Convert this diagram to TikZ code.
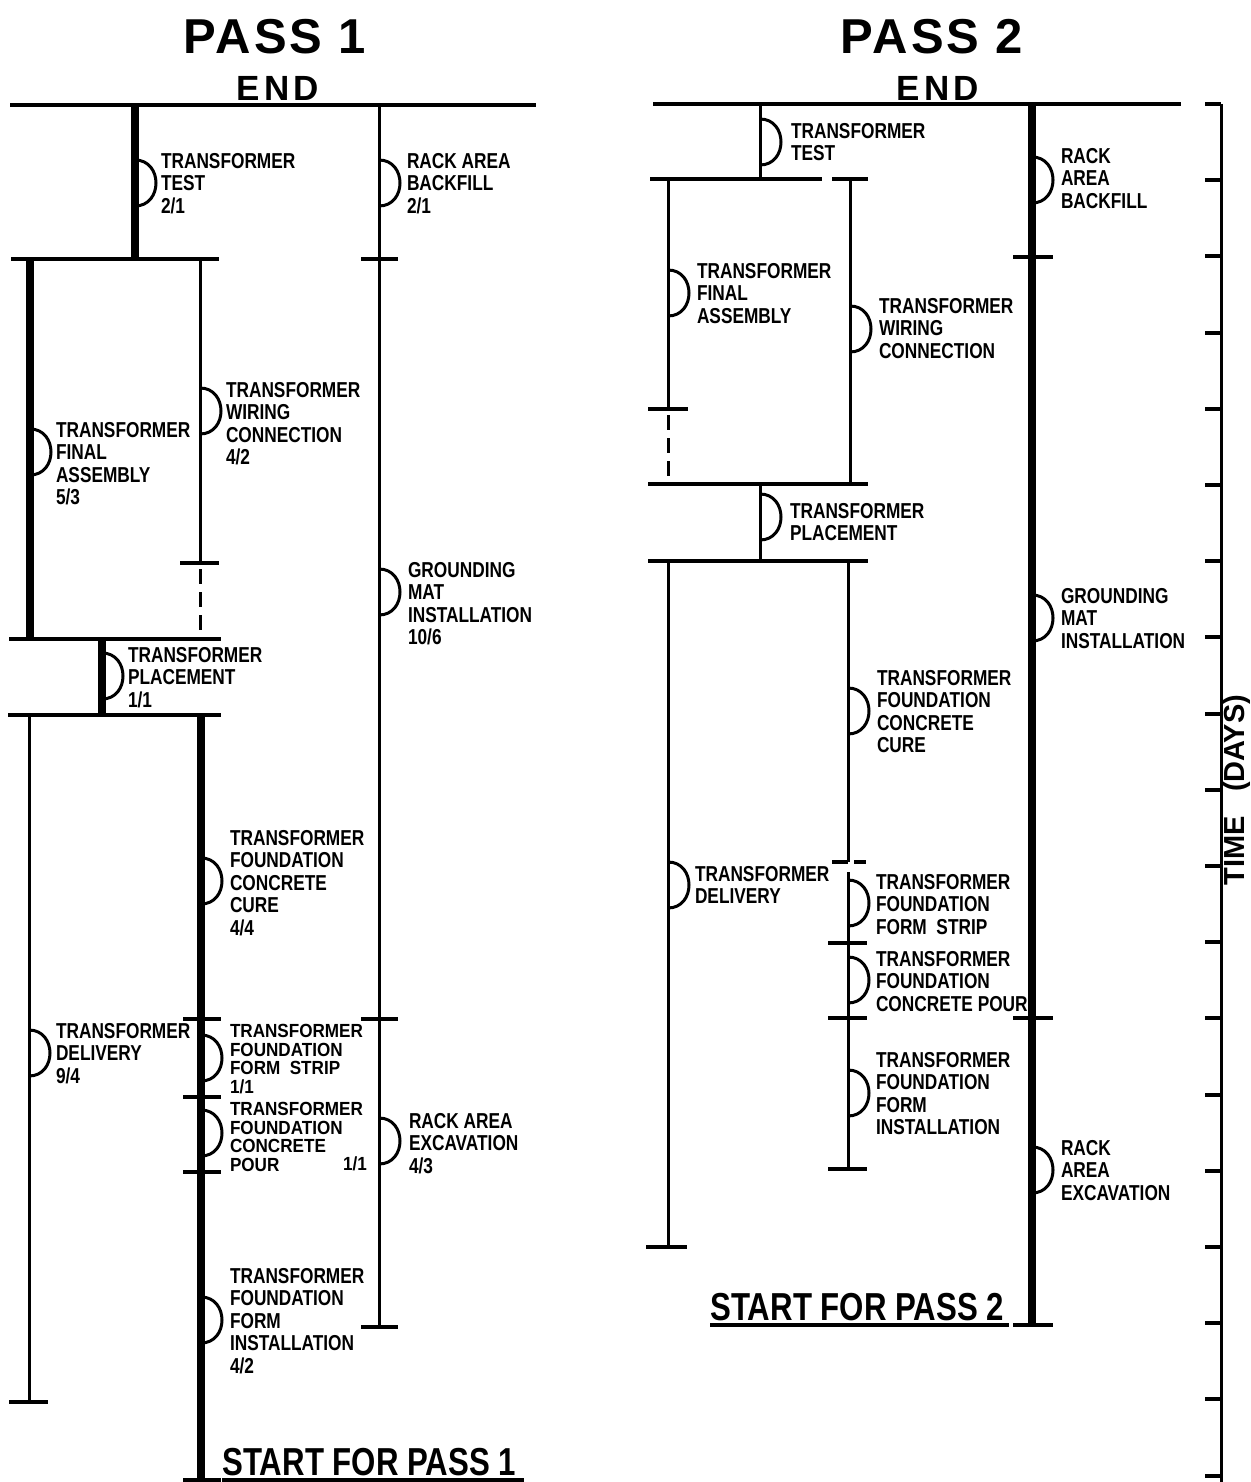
\documentclass[tikz,border=0pt]{standalone}
\usepackage{fontspec}
\setmainfont{Liberation Sans}
\newfontfamily\condf[FakeStretch=0.8]{Liberation Sans}
\newfontfamily\condw[FakeStretch=0.9]{Liberation Sans}
\newfontfamily\spacedf[LetterSpace=12]{Liberation Sans}
\newfontfamily\titlef[LetterSpace=6]{Liberation Sans}
\newcommand\lblfont{\condf\bfseries\fontsize{10.8}{11.25}\selectfont}
\newcommand\lbltightfont{\condw\bfseries\fontsize{9.5}{9.4}\selectfont}
\begin{document}
\begin{tikzpicture}[x=0.5pt,y=-0.5pt,
  actthin/.style={line width=1.5pt},
  actthick/.style={line width=4.3pt},
  tickln/.style={line width=2pt},
  endln/.style={line width=2pt},
  dashln/.style={line width=1.5pt,dash pattern=on 7.5pt off 4pt},
  lbl/.style={anchor=north west,inner sep=0pt,outer sep=0pt,align=left,font=\lblfont},
  lbltight/.style={anchor=north west,inner sep=0pt,outer sep=0pt,align=left,font=\lbltightfont},
  titlenode/.style={inner sep=0pt,font=\titlef\bfseries\fontsize{24.5}{26}\selectfont},
  endnode/.style={inner sep=0pt,font=\spacedf\bfseries\fontsize{17.5}{18}\selectfont},
  startnode/.style={anchor=base west,inner sep=0pt,font=\condf\bfseries\fontsize{19.5}{20}\selectfont},
  hump/.pic={\draw[line width=1.5pt] (0,0) .. controls (28,0) and (28,46) .. (0,46);}
]
\fill[white] (0,0) rectangle (1251,1482);
\useasboundingbox (0,0) rectangle (1251,1482);

% ================= PASS 1 =================
\node[titlenode] (p1title) at (275,37) {PASS 1};
\node[endnode] (p1end) at (278,88) {END};
\draw[endln] (10,105) -- (536,105);

% transformer test
\draw[actthick] (135,105) -- (135,259);
\draw[tickln] (11,259) -- (219,259);
\pic at (135,160) {hump};
\node[lbl] (a1) at (161,153) {TRANSFORMER\\TEST\\2/1};

% rack column
\draw[actthin] (379,105) -- (379,1327);
\foreach \yy in {259,1019,1327} \draw[tickln] (361,\yy) -- (398,\yy);
\pic at (379,160) {hump};
\node[lbl] (a2) at (407,153) {RACK AREA\\BACKFILL\\2/1};
\pic at (379,569) {hump};
\node[lbl] (a3) at (408,562) {GROUNDING\\MAT\\INSTALLATION\\10/6};
\pic at (379,1118) {hump};
\node[lbl] (a4) at (409,1113) {RACK AREA\\EXCAVATION\\4/3};

% final assembly
\draw[actthick] (30,259) -- (30,639);
\pic at (30,429) {hump};
\node[lbl] (a5) at (56,422) {TRANSFORMER\\FINAL\\ASSEMBLY\\5/3};

% wiring
\draw[actthin] (200,259) -- (200,563);
\draw[tickln] (180,563) -- (219,563);
\draw[dashln] (200,569) -- (200,639);
\pic at (200,388) {hump};
\node[lbl] (a6) at (226,382) {TRANSFORMER\\WIRING\\CONNECTION\\4/2};

% placement
\draw[tickln] (9,639) -- (221,639);
\draw[actthick] (102,639) -- (102,715);
\draw[tickln] (8,715) -- (221,715);
\pic at (102,653) {hump};
\node[lbl] (a7) at (128,647) {TRANSFORMER\\PLACEMENT\\1/1};

% delivery
\draw[actthin] (29,715) -- (29,1402);
\draw[tickln] (9,1402) -- (48,1402);
\pic at (29,1030) {hump};
\node[lbl] (a8) at (56,1023) {TRANSFORMER\\DELIVERY\\9/4};

% foundation chain
\draw[actthick] (201,715) -- (201,1482);
\foreach \yy in {1019,1097,1172,1480} \draw[tickln] (183,\yy) -- (221,\yy);
\pic at (201,858) {hump};
\node[lbl] (a9) at (230,830) {TRANSFORMER\\FOUNDATION\\CONCRETE\\CURE\\4/4};
\pic at (201,1035) {hump};
\node[lbltight] (a10) at (230,1024) {TRANSFORMER\\FOUNDATION\\FORM\ \ STRIP\\1/1};
\pic at (201,1110) {hump};
\node[lbltight] (a11) at (230,1102) {TRANSFORMER\\FOUNDATION\\CONCRETE\\POUR};
\node[lbltight,anchor=base west] (a11b) at (343,1170) {1/1};
\pic at (201,1297) {hump};
\node[lbl] (a12) at (230,1268) {TRANSFORMER\\FOUNDATION\\FORM\\INSTALLATION\\4/2};

\node[startnode] (s1) at (222,1475) {START FOR PASS 1};
\draw[tickln] (222,1480) -- (524,1480);

% ================= PASS 2 =================
\node[titlenode] (p2title) at (932,37) {PASS 2};
\node[endnode] (p2end) at (938,88) {END};
\draw[endln] (653,104) -- (1181,104);

% test
\draw[actthin] (760,104) -- (760,179);
\draw[tickln] (650,179) -- (822,179);
\draw[tickln] (832,179) -- (868,179);
\pic at (760,119) {hump};
\node[lbl] (b1) at (791,123) {TRANSFORMER\\TEST};

% final assembly
\draw[actthin] (668,179) -- (668,409);
\draw[tickln] (648,409) -- (688,409);
\draw[dashln] (668,415) -- (668,484);
\pic at (668,270) {hump};
\node[lbl] (b2) at (697,263) {TRANSFORMER\\FINAL\\ASSEMBLY};

% wiring
\draw[actthin] (850,179) -- (850,484);
\pic at (850,306) {hump};
\node[lbl] (b3) at (879,298) {TRANSFORMER\\WIRING\\CONNECTION};

% placement
\draw[tickln] (648,484) -- (868,484);
\draw[actthin] (760,484) -- (760,561);
\draw[tickln] (648,561) -- (868,561);
\pic at (760,494) {hump};
\node[lbl] (b4) at (790,503) {TRANSFORMER\\PLACEMENT};

% delivery
\draw[actthin] (668,561) -- (668,1247);
\draw[tickln] (646,1247) -- (687,1247);
\pic at (668,862) {hump};
\node[lbl] (b5) at (695,866) {TRANSFORMER\\DELIVERY};

% foundation chain
\draw[actthin] (848,561) -- (848,862);
\draw[tickln] (832,862) -- (848,862);
\draw[tickln] (854,862) -- (866,862);
\draw[actthin] (848,872) -- (848,1169);
\foreach \yy in {943,1018,1169} \draw[tickln] (828,\yy) -- (867,\yy);
\pic at (848,688) {hump};
\node[lbl] (b6) at (877,670) {TRANSFORMER\\FOUNDATION\\CONCRETE\\CURE};
\pic at (848,880) {hump};
\node[lbl] (b7) at (876,874) {TRANSFORMER\\FOUNDATION\\FORM\ \ STRIP};
\pic at (848,957) {hump};
\node[lbl] (b8) at (876,951) {TRANSFORMER\\FOUNDATION\\CONCRETE POUR};
\pic at (848,1070) {hump};
\node[lbl] (b9) at (876,1052) {TRANSFORMER\\FOUNDATION\\FORM\\INSTALLATION};

% rack column
\draw[actthick] (1032,104) -- (1032,1325);
\foreach \yy in {257,1018,1325} \draw[tickln] (1013,\yy) -- (1053,\yy);
\pic at (1032,157) {hump};
\node[lbl] (b10) at (1061,148) {RACK\\AREA\\BACKFILL};
\pic at (1032,595) {hump};
\node[lbl] (b11) at (1061,588) {GROUNDING\\MAT\\INSTALLATION};
\pic at (1032,1147) {hump};
\node[lbl] (b12) at (1061,1140) {RACK\\AREA\\EXCAVATION};

\node[startnode] (s2) at (710,1320) {START FOR PASS 2};
\draw[tickln] (710,1325) -- (1009,1325);

% ================= TIME AXIS =================
\draw[actthin] (1221,104) -- (1221,1482);
\foreach \k in {0,...,18} \draw[tickln] (1205,{104+76.2*\k}) -- (1221,{104+76.2*\k});
\node[rotate=90,anchor=base,inner sep=0pt,font=\bfseries\fontsize{14.5}{16}\selectfont] (timelbl) at (1244,790) {TIME\ \ \ (DAYS)};
\end{tikzpicture}
\end{document}
